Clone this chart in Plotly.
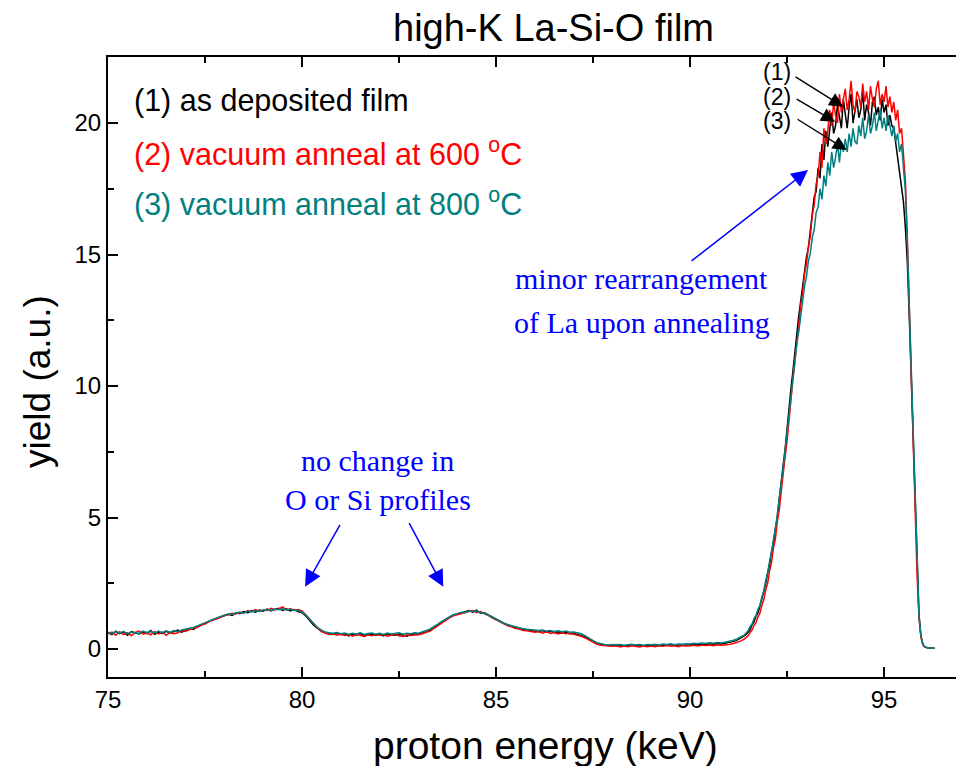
import numpy as np
import plotly.graph_objects as go

# ---------------- data ----------------
# energy grid (keV): coarse part 75.0..91.4 (0.1 step), fine part 91.45..96.30 (0.05 step)
energy_lo = np.round(np.arange(750, 915) / 10.0, 2)
energy_hi = np.round(np.arange(1829, 1927) / 20.0, 2)
energy = np.concatenate([energy_lo, energy_hi])

yield_1_lo = [
    0.62,0.55,0.68,0.58,0.64,0.52,0.66,0.60,0.57,0.65,
    0.58,0.70,0.56,0.63,0.59,0.67,0.61,0.66,0.72,0.64,
    0.72,0.78,0.74,0.85,0.90,0.98,1.05,1.10,1.16,1.22,
    1.25,1.32,1.28,1.38,1.35,1.42,1.38,1.45,1.40,1.48,
    1.44,1.52,1.46,1.50,1.55,1.47,1.53,1.45,1.50,1.42,
    1.38,1.25,1.08,0.90,0.78,0.68,0.62,0.58,0.55,0.60,
    0.54,0.58,0.50,0.56,0.53,0.59,0.51,0.55,0.57,0.52,
    0.56,0.50,0.58,0.54,0.52,0.57,0.53,0.49,0.55,0.58,
    0.56,0.60,0.65,0.72,0.80,0.92,1.02,1.12,1.22,1.30,
    1.32,1.38,1.42,1.46,1.40,1.48,1.36,1.38,1.30,1.22,
    1.12,1.05,0.98,0.92,0.86,0.82,0.78,0.74,0.72,0.70,
    0.68,0.66,0.70,0.64,0.67,0.62,0.65,0.60,0.63,0.58,
    0.60,0.55,0.52,0.46,0.38,0.30,0.22,0.18,0.15,0.13,
    0.14,0.12,0.15,0.11,0.13,0.16,0.12,0.14,0.11,0.15,
    0.13,0.16,0.12,0.15,0.14,0.17,0.13,0.16,0.15,0.14,
    0.16,0.18,0.15,0.19,0.17,0.20,0.18,0.21,0.19,0.22,
    0.24,0.28,0.33,0.40,0.50]
yield_1_hi = [
    0.55,0.66,0.74,0.92,1.03,1.25,1.38,1.62,1.88,2.24,2.48,
    2.90,3.20,3.70,4.00,4.60,5.00,5.70,6.25,7.00,7.60,
    8.45,9.05,9.90,10.55,11.40,11.95,12.65,13.20,13.90,14.35,
    14.90,15.25,15.95,16.40,17.20,17.40,18.30,17.90,19.20,18.60,
    19.70,19.10,19.90,20.40,19.60,19.90,20.70,20.20,19.80,20.90,
    20.30,19.80,20.60,21.10,20.00,20.40,20.90,20.20,20.50,21.20,
    20.10,20.70,20.40,19.90,20.80,21.00,20.30,20.60,20.10,20.90,
    20.40,20.70,19.90,20.30,19.90,19.80,19.20,18.60,18.00,17.50,
    17.00,16.00,14.70,12.60,10.30,8.10,5.50,3.00,1.30,0.50,
    0.18,0.08,0.05,0.04,0.04,0.03,0.03]

yield_2_lo = [
    0.58,0.64,0.52,0.66,0.55,0.62,0.50,0.63,0.68,0.56,
    0.61,0.54,0.66,0.57,0.64,0.52,0.63,0.58,0.62,0.70,
    0.68,0.74,0.80,0.82,0.92,0.95,1.02,1.12,1.14,1.20,
    1.28,1.30,1.36,1.33,1.40,1.37,1.46,1.42,1.50,1.44,
    1.48,1.46,1.55,1.49,1.52,1.60,1.48,1.54,1.47,1.50,
    1.45,1.30,1.12,0.94,0.80,0.66,0.60,0.55,0.58,0.52,
    0.57,0.51,0.55,0.49,0.56,0.52,0.48,0.54,0.50,0.55,
    0.52,0.55,0.49,0.53,0.56,0.50,0.48,0.54,0.51,0.53,
    0.54,0.58,0.62,0.68,0.78,0.88,0.98,1.10,1.18,1.26,
    1.30,1.36,1.40,1.44,1.46,1.38,1.42,1.34,1.28,1.18,
    1.10,1.02,0.95,0.88,0.84,0.78,0.76,0.70,0.69,0.66,
    0.64,0.66,0.60,0.65,0.59,0.63,0.57,0.62,0.58,0.60,
    0.56,0.53,0.48,0.42,0.34,0.25,0.18,0.14,0.12,0.10,
    0.10,0.12,0.08,0.11,0.09,0.12,0.10,0.08,0.11,0.09,
    0.11,0.09,0.12,0.10,0.13,0.10,0.12,0.09,0.13,0.11,
    0.12,0.14,0.11,0.15,0.13,0.15,0.12,0.16,0.14,0.15,
    0.17,0.20,0.24,0.30,0.38]
yield_2_hi = [
    0.45,0.50,0.64,0.72,0.90,1.00,1.22,1.36,1.65,1.88,2.24,
    2.50,2.98,3.30,3.85,4.20,4.85,5.30,6.00,6.55,7.30,
    7.90,8.75,9.40,10.25,10.90,11.75,12.30,13.05,13.55,14.25,
    14.65,15.30,15.70,16.50,16.90,17.70,18.00,18.90,18.30,19.80,
    19.20,19.70,20.50,19.90,20.80,20.30,20.00,21.10,20.40,20.90,
    21.30,20.50,20.90,21.60,20.70,20.40,21.20,21.00,20.60,21.50,
    20.80,21.20,20.50,21.40,20.90,20.60,21.30,21.60,20.70,21.10,
    20.80,21.40,20.60,21.00,20.40,20.80,20.10,20.50,19.60,19.80,
    18.90,17.80,15.60,12.90,10.30,7.80,5.20,2.80,1.20,0.45,
    0.16,0.07,0.05,0.04,0.03,0.03,0.03]

yield_3_lo = [
    0.64,0.58,0.66,0.60,0.67,0.57,0.64,0.62,0.59,0.68,
    0.63,0.66,0.60,0.68,0.62,0.69,0.64,0.70,0.66,0.72,
    0.75,0.78,0.82,0.88,0.94,1.00,1.08,1.14,1.20,1.24,
    1.28,1.34,1.31,1.38,1.40,1.36,1.44,1.41,1.46,1.43,
    1.47,1.50,1.45,1.52,1.49,1.53,1.48,1.51,1.46,1.48,
    1.40,1.28,1.12,0.95,0.82,0.72,0.65,0.62,0.60,0.63,
    0.58,0.61,0.56,0.60,0.57,0.62,0.55,0.59,0.61,0.56,
    0.60,0.55,0.61,0.57,0.59,0.62,0.56,0.60,0.58,0.62,
    0.60,0.64,0.70,0.76,0.84,0.95,1.05,1.14,1.24,1.30,
    1.34,1.40,1.38,1.45,1.42,1.44,1.38,1.36,1.28,1.20,
    1.12,1.04,0.98,0.92,0.88,0.84,0.80,0.77,0.75,0.73,
    0.71,0.70,0.72,0.68,0.70,0.67,0.69,0.66,0.68,0.64,
    0.65,0.62,0.58,0.50,0.40,0.32,0.24,0.20,0.17,0.16,
    0.16,0.15,0.17,0.14,0.16,0.18,0.15,0.17,0.14,0.17,
    0.16,0.18,0.15,0.19,0.17,0.20,0.16,0.19,0.18,0.20,
    0.19,0.22,0.20,0.23,0.21,0.24,0.22,0.25,0.23,0.26,
    0.28,0.32,0.37,0.44,0.54]
yield_3_hi = [
    0.62,0.70,0.86,0.96,1.16,1.28,1.50,1.66,1.97,2.22,2.60,
    2.90,3.34,3.68,4.18,4.58,5.16,5.66,6.34,6.88,7.58,
    8.16,8.90,9.50,10.30,10.85,11.60,12.05,12.75,13.20,13.80,
    14.15,14.75,15.05,15.65,15.95,16.60,16.80,17.50,17.10,18.00,
    17.60,18.50,18.00,18.90,18.30,18.70,19.20,18.50,19.30,18.90,
    19.40,18.90,19.60,19.10,19.80,19.30,19.20,19.90,19.50,20.20,
    19.40,19.70,20.30,19.60,19.90,20.40,19.70,20.10,20.50,19.80,
    20.20,19.70,20.30,19.90,19.50,19.90,19.30,19.60,18.90,19.20,
    18.40,17.40,15.40,13.00,10.50,8.00,5.40,2.90,1.25,0.48,
    0.17,0.08,0.05,0.04,0.04,0.03,0.03]

series_names = ["(1) as deposited film", "(2) vacuum anneal at 600 °C", "(3) vacuum anneal at 800 °C"]
series_colors = ["#000000", "#ff0000", "#008080"]
series_values = [yield_1_lo + yield_1_hi, yield_2_lo + yield_2_hi, yield_3_lo + yield_3_hi]

x_ticks = [75, 80, 85, 90, 95]
y_ticks = [0, 5, 10, 15, 20]

# ---------------- figure ----------------
SANS = "Liberation Sans, Arial, sans-serif"
SERIF = "Liberation Serif, Times New Roman, serif"

fig = go.Figure()
for name, color, vals in zip(series_names, series_colors, series_values):
    fig.add_trace(go.Scatter(x=energy, y=vals, mode="lines", name=name,
                             line=dict(color=color, width=1.5), showlegend=False))

# page body has an 8 px margin -> figure is drawn 8 px right / down
fig.update_layout(
    width=956, height=758,
    margin=dict(l=100, r=0, t=49, b=89),
    paper_bgcolor="white", plot_bgcolor="white",
    font=dict(family=SANS, color="black"),
    showlegend=False,
)

fig.update_xaxes(
    range=[75, 97.06], tickvals=x_ticks, ticks="inside", ticklen=10, tickwidth=2,
    tickcolor="black", showline=True, linewidth=2, linecolor="black", mirror="ticks",
    showgrid=False, zeroline=False, tickfont=dict(size=24, family=SANS, color="black"),
    minor=dict(tick0=75, dtick=2.5, ticks="inside", ticklen=6, tickwidth=2, tickcolor="black", showgrid=False),
)
fig.update_yaxes(
    range=[-1.065, 22.51], tickvals=y_ticks, ticks="inside", ticklen=10, tickwidth=2,
    tickcolor="black", showline=True, linewidth=2, linecolor="black", mirror=False,
    showgrid=False, zeroline=False, tickfont=dict(size=24, family=SANS, color="black"),
    minor=dict(tick0=0, dtick=2.5, ticks="inside", ticklen=6, tickwidth=2, tickcolor="black", showgrid=False),
)

ann = []
# title and axis titles
ann.append(dict(text="high-K La-Si-O film", xref="paper", yref="paper", x=(553-108)/856, y=1 + (57-28)/620,
                showarrow=False, font=dict(size=38, family=SANS, color="black"), xanchor="center", yanchor="middle"))
ann.append(dict(text="proton energy (keV)", xref="paper", yref="paper", x=(545-108)/856, y=-(745-677)/620,
                showarrow=False, font=dict(size=39, family=SANS, color="black"), xanchor="center", yanchor="middle"))
ann.append(dict(text="yield (a.u.)", xref="paper", yref="paper", x=-(108-37)/856, y=(677-382)/620,
                showarrow=False, textangle=-90, font=dict(size=37, family=SANS, color="black"),
                xanchor="center", yanchor="middle"))

# legend-like labels
label_y = [20.87, 18.86, 16.99]
label_txt = ["(1) as deposited film", "(2) vacuum anneal at 600 <sup>o</sup>C", "(3) vacuum anneal at 800 <sup>o</sup>C"]
for t, yy, c in zip(label_txt, label_y, series_colors):
    ann.append(dict(text=t, x=75.62, y=yy, xref="x", yref="y", showarrow=False, xanchor="left", yanchor="middle",
                    font=dict(size=30.5, family=SANS, color=c)))

# blue notes
blue = "#0000ff"
for t, xx, yy in [("minor rearrangement", 88.74, 14.07), ("of La upon annealing", 88.77, 12.43),
                  ("no change in", 81.95, 7.15), ("O or Si profiles", 81.95, 5.67)]:
    ann.append(dict(text=t, x=xx, y=yy, xref="x", yref="y", showarrow=False, xanchor="center", yanchor="middle",
                    font=dict(size=30, family=SERIF, color=blue)))

# blue arrows
for (tx, ty, hx, hy) in [(90.0, 14.71, 93.04, 18.21), (81.0, 4.78, 80.08, 2.37), (82.74, 4.84, 83.64, 2.37)]:
    ann.append(dict(text="", x=hx, y=hy, ax=tx, ay=ty, xref="x", yref="y", axref="x", ayref="y",
                    showarrow=True, arrowhead=2, arrowsize=2.2, arrowwidth=1.5, arrowcolor=blue))

# black numbered labels + arrows
for t, yy in [("(1)", 21.94), ("(2)", 20.99), ("(3)", 20.08)]:
    ann.append(dict(text=t, x=92.24, y=yy, xref="x", yref="y", showarrow=False, xanchor="center", yanchor="middle",
                    font=dict(size=23, family=SANS, color="black")))
for (tx, ty, hx, hy) in [(92.68, 21.79, 93.95, 20.62), (92.71, 20.94, 93.74, 20.05), (92.73, 20.18, 94.04, 18.97)]:
    ann.append(dict(text="", x=hx, y=hy, ax=tx, ay=ty, xref="x", yref="y", axref="x", ayref="y",
                    showarrow=True, arrowhead=2, arrowsize=2.0, arrowwidth=1.4, arrowcolor="black"))

fig.update_layout(annotations=ann)
fig.write_html("out.html")
